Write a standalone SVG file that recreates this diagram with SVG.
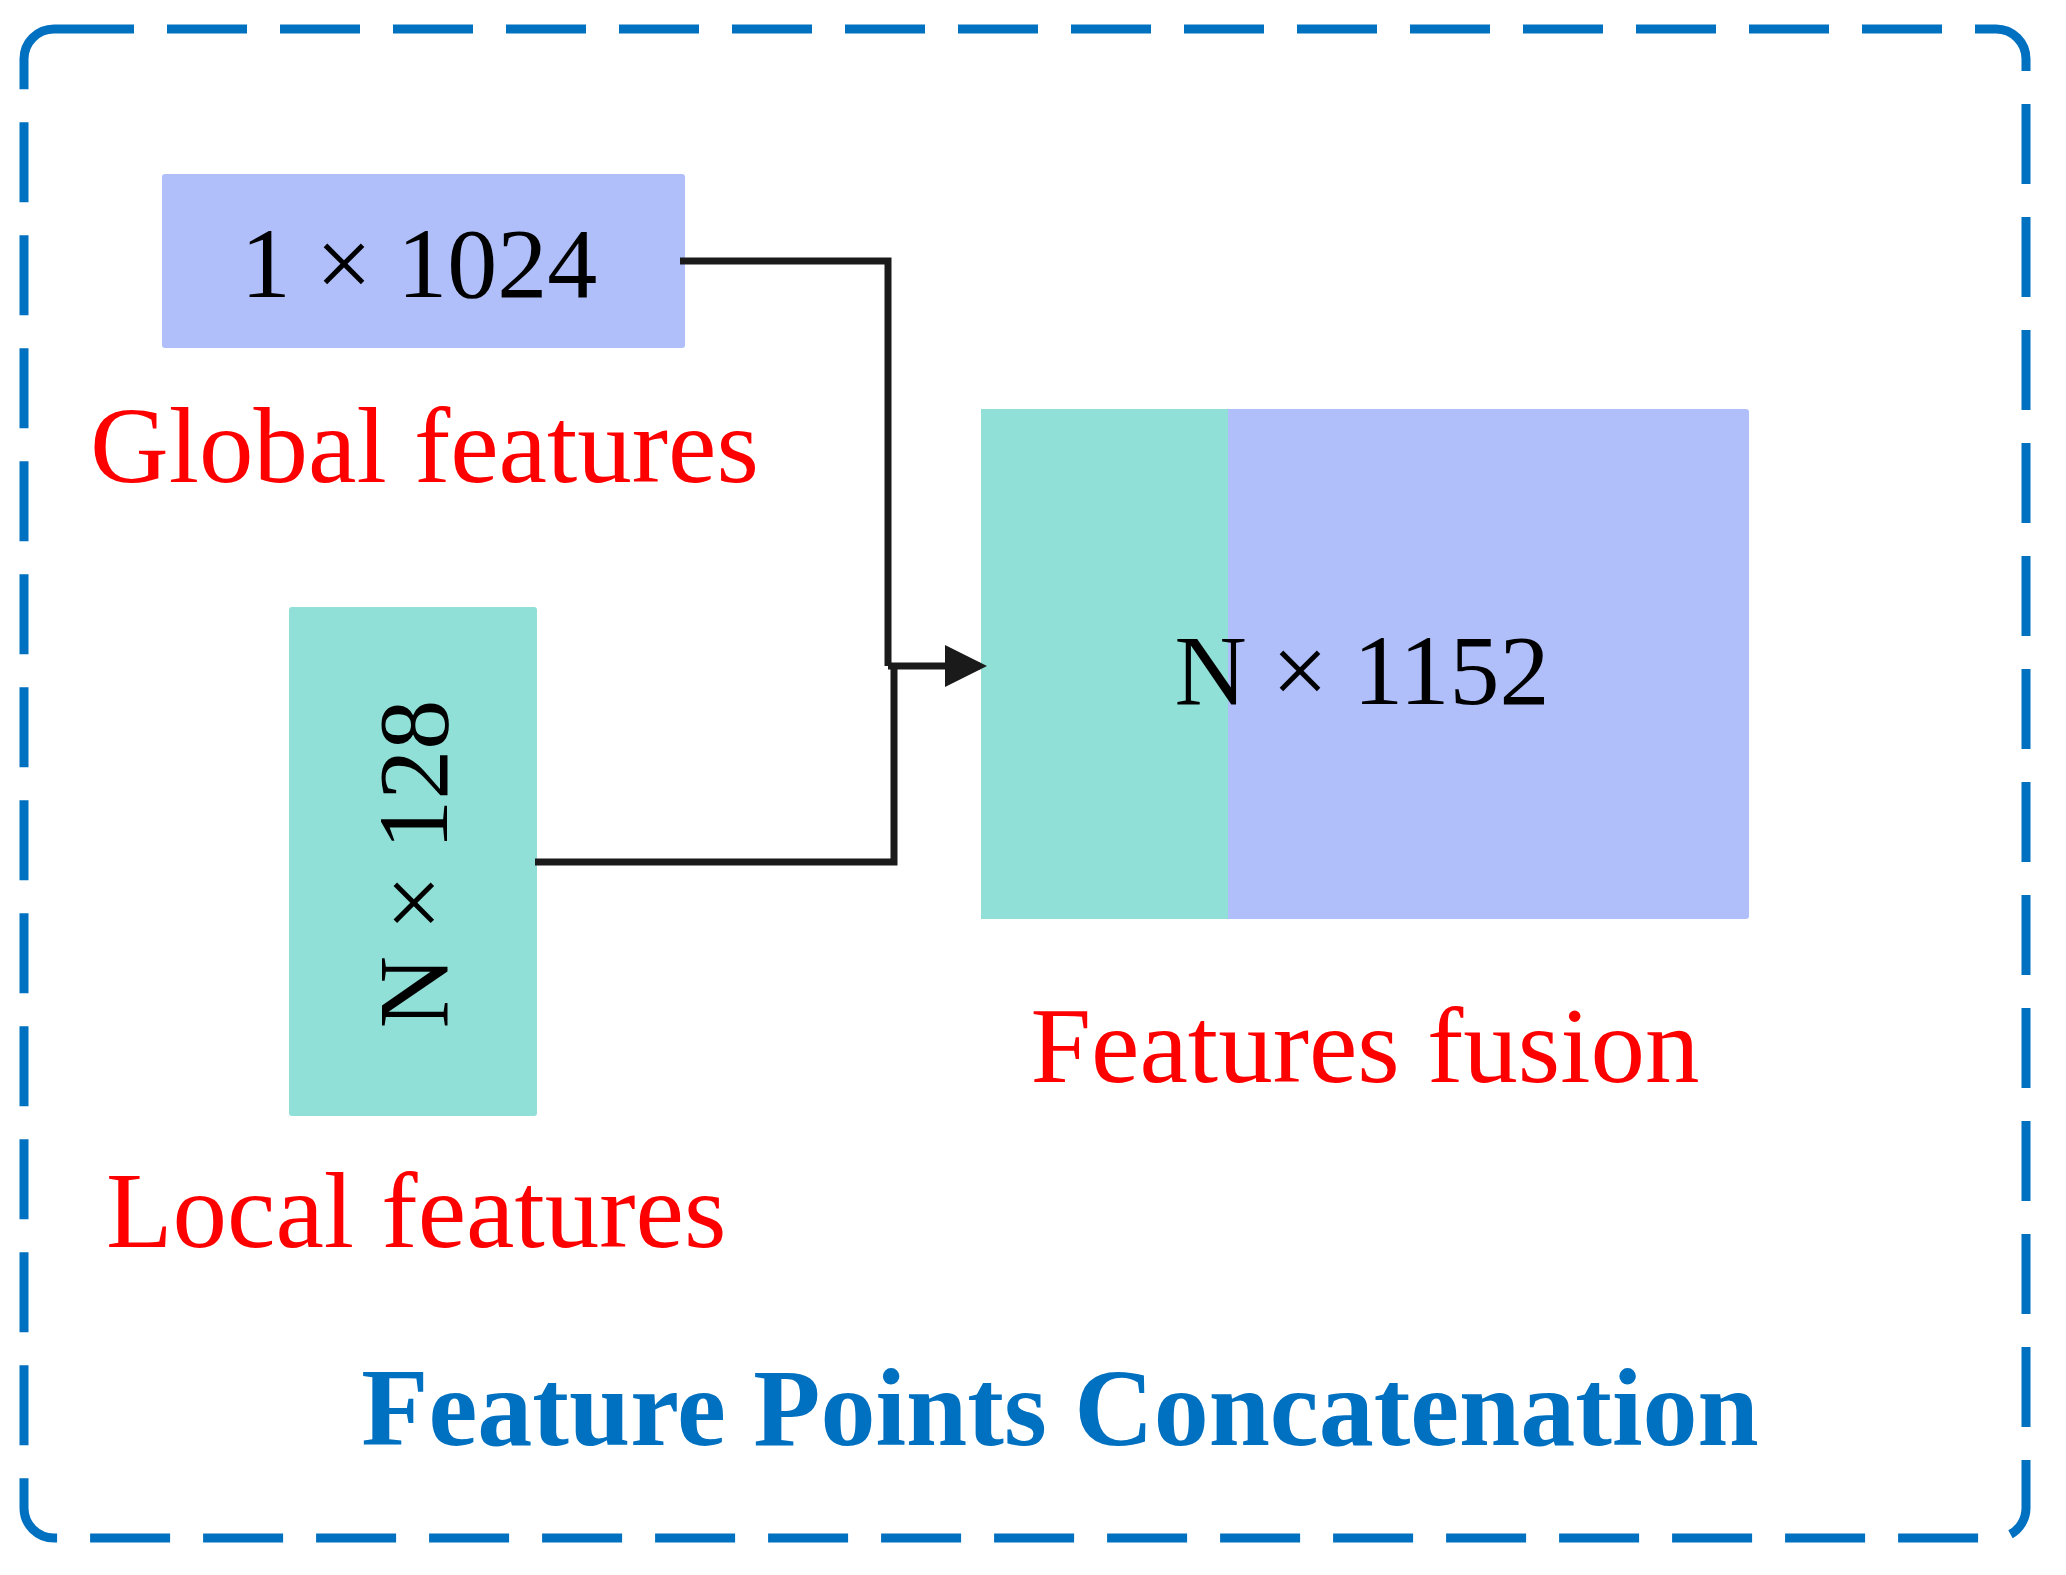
<svg xmlns="http://www.w3.org/2000/svg" width="2066" height="1575" viewBox="0 0 2066 1575">
<style>
.t{font-family:"Liberation Serif",serif;fill:#000}
.r{font-family:"Liberation Serif",serif;fill:#ff0000;font-size:109px}
.c{fill:none;stroke:#1a1a1a;stroke-width:7}
</style>
<defs><marker id="a" markerWidth="6" markerHeight="6" refX="5" refY="3" orient="auto" markerUnits="strokeWidth"><path d="M0,0L6,3L0,6z" fill="#1a1a1a"/></marker></defs>
<rect width="2066" height="1575" fill="#fff"/>
<rect x="24" y="29" width="2002" height="1509" rx="30" fill="none" stroke="#0070c0" stroke-width="9" stroke-dasharray="80 33"/>
<g id="global"><rect x="162" y="174" width="523" height="174" rx="3" fill="#b0bffa"/><text class="t" x="419" y="297" font-size="100" text-anchor="middle">1 × 1024</text><text class="r" x="90" y="482">Global features</text></g>
<g id="local"><rect x="289" y="607" width="248" height="509" rx="3" fill="#91e0d8"/><text class="t" transform="translate(447,864) rotate(-90)" font-size="100" text-anchor="middle">N × 128</text><text class="r" x="106" y="1247">Local features</text></g>
<g id="fusion"><rect x="981" y="409" width="768" height="510" rx="3" fill="#b0bffa"/><rect x="981" y="409" width="247" height="510" fill="#91e0d8"/><text class="t" x="1362" y="704" font-size="100" text-anchor="middle">N × 1152</text><text class="r" x="1365" y="1082" text-anchor="middle">Features fusion</text></g>
<g id="connectors"><path class="c" d="M680,261H888V666"/><path class="c" d="M535,862H894V666"/><path class="c" d="M888,666H980" marker-end="url(#a)"/></g>
<text x="1060" y="1445" font-family="Liberation Serif,serif" font-weight="bold" font-size="110" fill="#0070c0" text-anchor="middle">Feature Points Concatenation</text>
</svg>
